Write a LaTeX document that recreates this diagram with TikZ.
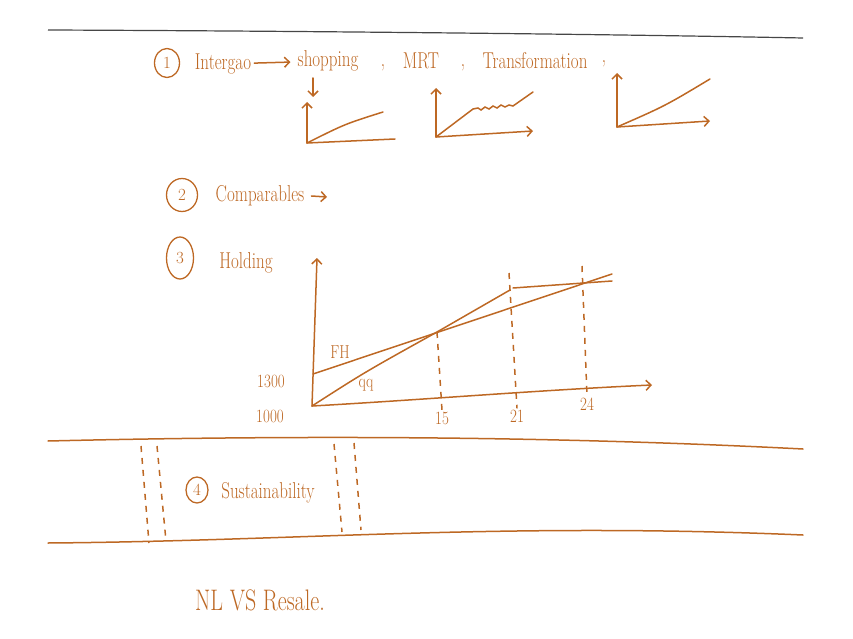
\documentclass[tikz,border=0pt]{standalone}
\usepackage{tikz}
\usetikzlibrary{arrows.meta,shapes.geometric}
\definecolor{ink}{RGB}{189,104,36}
\definecolor{rulegray}{RGB}{70,70,70}
\tikzset{
  pen/.style={ink, line width=1.5pt, line cap=round},
  txt/.style={ink, font=\fontsize{17}{20}\selectfont, inner sep=1pt, yscale=1.35, transform shape},
  small/.style={ink, font=\fontsize{15}{18}\selectfont, inner sep=1pt, yscale=1.25, transform shape},
  num/.style={draw=ink, ellipse, ink, line width=1.3pt, inner sep=0pt, font=\fontsize{17}{19}\selectfont},
  guide/.style={ink, line width=1.5pt, dash pattern=on 6pt off 6pt}
}

\begin{document}
\begin{tikzpicture}[x=1pt,y=-1pt,>={Straight Barb[length=5pt,width=10pt]}]
\useasboundingbox (0,0) rectangle (853,639);
% top rule
\draw[rulegray, line width=1.2pt] (48,30) .. controls (300,31) and (600,34) .. (803,38);

% item 1
\node[num, minimum width=25pt, minimum height=29pt] (n1) at (167,63) {1};
\node[txt] (intergao) at (223,64) {Intergao};
\node[txt] (shop) at (328,61) {shopping};
\node[txt] (c1) at (383,68) {,};
\node[txt] (mrt) at (421,61) {MRT};
\node[txt] (c2) at (463,68) {,};
\node[txt] (trans) at (535,61) {Transformation};
\node[txt] (c3) at (604,64) {,};
\draw[pen,->,shorten <=2pt,shorten >=6pt] (intergao) -- (shop);
\coordinate (g1top) at (313,97);
\draw[pen,->] (313,78) -- (g1top);

% small graphs
\coordinate (o1) at (307,143);
\draw[pen,->] (o1) -- (307,102);
\draw[pen] (o1) -- (395,139);
\draw[pen] (o1) .. controls (345,124) .. (383,112);

\coordinate (o2) at (436,137);
\draw[pen,->] (o2) -- (436,88);
\draw[pen,->] (o2) -- (533,131);
\draw[pen] (o2) -- (473,109) -- (478,108) -- (481,110) -- (485,107) -- (489,109)
  -- (493,106) -- (497,108) -- (501,105) -- (505,107) -- (509,105) -- (513,106) -- (533,92);

\coordinate (o3) at (617,127);
\draw[pen,->] (o3) -- (617,73);
\draw[pen,->] (o3) -- (710,121);
\draw[pen] (o3) .. controls (665,106) .. (710,79);

% item 2
\node[num, minimum width=31pt, minimum height=33pt] (n2) at (182,195) {2};
\node[txt] (comp) at (260,196) {Comparables};
\coordinate (compend) at (327,197);
\draw[pen,->] (comp.east) ++(6,0) -- (compend);

% item 3
\node[num, minimum width=27pt, minimum height=42pt] (n3) at (180,258) {3};
\node[txt] (hold) at (246,263) {Holding};

% main graph
\coordinate (o) at (312,406);
\draw[pen,->] (o) -- (317,258);
\draw[pen,->] (o) .. controls (420,400) and (540,390) .. (652,385);
\coordinate (fh0) at (313,374);
\coordinate (fh1) at (612,274);
\draw[pen] (fh0) -- (fh1);
\coordinate (p15) at (437,332);
\coordinate (p21) at (510,290);
\coordinate (q1) at (513,288);
\coordinate (q2) at (612,281);
\draw[pen] (o) .. controls (365,372) .. (p15) -- (p21);
\draw[pen] (q1) -- (q2);

\node[small] (fh) at (340,352) {FH};
\node[small] (qq) at (366,385) {qq};
\node[small] (l1300) at (271,381) {1300};
\node[small] (l1000) at (270,416) {1000};
\node[small] (t15) at (442,418) {15};
\node[small] (t21) at (517,416) {21};
\node[small] (t24) at (587,404) {24};
\draw[guide] (p15) -- (t15.north);
\draw[guide] (509,273) -- (t21.north);
\draw[guide] (582,266) -- (t24.north);

% band
\draw[pen] (48,441) .. controls (300,435) and (550,436) .. (803,449);
\draw[pen] (48,543) .. controls (300,541) and (500,522) .. (803,535);
\draw[guide] (141,446) -- (149,543);
\draw[guide] (157,446) -- (166,541);
\draw[guide] (334,444) -- (342,532);
\draw[guide] (354,443) -- (361,530);

% item 4
\node[num, minimum width=22pt, minimum height=26pt] (n4) at (197,490) {4};
\node[txt] (sust) at (268,493) {Sustainability};

% bottom note
\node[txt, font=\fontsize{22}{26}\selectfont] (resale) at (260,600) {NL VS Resale.};
\end{tikzpicture}
\end{document}
